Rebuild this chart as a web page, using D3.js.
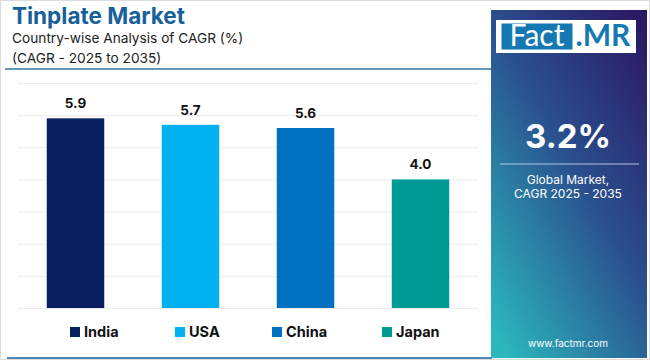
<!DOCTYPE html>
<html><head><meta charset="utf-8">
<script src="https://cdn.jsdelivr.net/npm/d3@7"></script>
<style>body{margin:0;background:#fff;}svg{display:block;font-family:Inter,"Noto Sans",sans-serif;}</style>
</head><body><svg id="c" width="650" height="360"></svg>
<script>
const categories = ["India", "USA", "China", "Japan"];
const values = [5.9, 5.7, 5.6, 4.0];
const colors = ["#0a1f5f", "#00b0f0", "#0070c0", "#009b95"];
const yTicks = [0, 1, 2, 3, 4, 5, 6, 7];
const globalCagr = "3.2%";

const svg = d3.select("#c");
svg.append("rect").attr("x",0.5).attr("y",0.5).attr("width",649).attr("height",359).attr("fill","none").attr("stroke","#dcdcdc");

svg.append("text").attr("x",12).attr("y",24).text("Tinplate Market")
  .attr("font-size",22.5).attr("font-weight",700).attr("fill","#17609a");
svg.append("text").attr("x",12).attr("y",43).text("Country-wise Analysis of CAGR (%)")
  .attr("font-size",13.7).attr("fill","#222");
svg.append("text").attr("x",12).attr("y",63).text("(CAGR - 2025 to 2035)")
  .attr("font-size",13.7).attr("fill","#222");
svg.append("line").attr("x1",5).attr("x2",492).attr("y1",69).attr("y2",69)
  .attr("stroke","#2f77a8").attr("stroke-width",1.5);
svg.append("line").attr("x1",7).attr("x2",492).attr("y1",358).attr("y2",358)
  .attr("stroke","#4a86b4").attr("stroke-width",2);

const x = d3.scaleBand().domain(categories).range([18,478]).paddingInner(0.5).paddingOuter(0.25);
const y = d3.scaleLinear().domain([0,7]).range([308,83]);

const grid = svg.append("g").attr("transform","translate(18,0)")
  .call(d3.axisLeft(y).tickValues(yTicks).tickSize(-460).tickFormat(""));
grid.select(".domain").remove();
grid.selectAll(".tick line").attr("stroke","#ebebeb");

svg.selectAll("rect.bar").data(categories).join("rect").attr("class","bar")
  .attr("x",d=>x(d)).attr("width",x.bandwidth())
  .attr("y",(d,i)=>y(values[i])).attr("height",(d,i)=>y(0)-y(values[i]))
  .attr("fill",(d,i)=>colors[i]);
svg.selectAll("text.val").data(categories).join("text").attr("class","val")
  .attr("x",d=>x(d)+x.bandwidth()/2).attr("y",(d,i)=>y(values[i])-10)
  .attr("text-anchor","middle").attr("font-size",13.5).attr("font-weight",700).attr("fill","#111")
  .text((d,i)=>values[i].toFixed(1));

const legX = [70, 175, 272, 382];
const leg = svg.selectAll("g.leg").data(categories).join("g").attr("class","leg")
  .attr("transform",(d,i)=>`translate(${legX[i]},327)`);
leg.append("rect").attr("width",10).attr("height",10).attr("fill",(d,i)=>colors[i]);
leg.append("text").attr("x",14).attr("y",9.5).text(d=>d)
  .attr("font-size",14.5).attr("font-weight",700).attr("fill","#111");

const defs = svg.append("defs");
const g = defs.append("linearGradient").attr("id","pg").attr("x1","0.9").attr("y1","0").attr("x2","0.1").attr("y2","1");
g.append("stop").attr("offset","0").attr("stop-color","#2b1a66");
g.append("stop").attr("offset","0.45").attr("stop-color","#2a4f8e");
g.append("stop").attr("offset","1").attr("stop-color","#2bb8bd");
svg.append("rect").attr("x",491).attr("y",10).attr("width",156).attr("height",348).attr("fill","url(#pg)");

svg.append("rect").attr("x",496).attr("y",20).attr("width",140).attr("height",33).attr("fill","#fff");
svg.append("rect").attr("x",501.5).attr("y",23.5).attr("width",71).attr("height",26).attr("fill","#1479b3");
svg.append("text").attr("x",537).attr("y",46).attr("text-anchor","middle").text("Fact")
  .attr("font-size",30).attr("fill","#fff").attr("font-family","Lato, Inter, sans-serif");
svg.append("text").attr("x",603).attr("y",46).attr("text-anchor","middle").text(".MR")
  .attr("font-size",30).attr("font-weight",700).attr("fill","#1479b3").attr("font-family","Lato, Inter, sans-serif");

svg.append("text").attr("x",568).attr("y",148).attr("text-anchor","middle").text(globalCagr)
  .attr("font-size",33).attr("font-weight",700).attr("fill","#fff");
svg.append("line").attr("x1",500).attr("x2",639).attr("y1",164).attr("y2",164)
  .attr("stroke","#b8c4dc").attr("stroke-width",1.2);
svg.append("text").attr("x",568).attr("y",184).attr("text-anchor","middle").text("Global Market,")
  .attr("font-size",12).attr("fill","#fff");
svg.append("text").attr("x",568).attr("y",198).attr("text-anchor","middle").text("CAGR 2025 - 2035")
  .attr("font-size",12).attr("fill","#fff");
svg.append("text").attr("x",568).attr("y",347).attr("text-anchor","middle").text("www.factmr.com")
  .attr("font-size",10).attr("fill","#fff");
</script></body></html>
